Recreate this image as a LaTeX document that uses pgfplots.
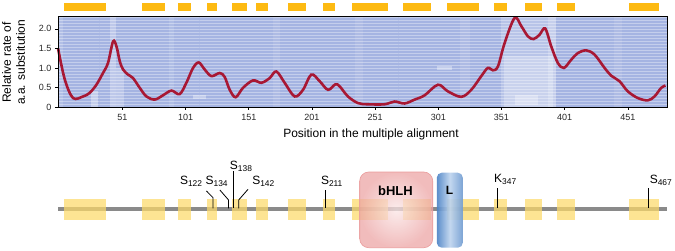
\documentclass[border=0pt]{standalone}
\usepackage{pgfplots}
\pgfplotsset{compat=1.18}
\usepackage{fontspec}
\setmainfont{Liberation Sans}
\setsansfont{Liberation Sans}
\usetikzlibrary{patterns}
\definecolor{curvered}{RGB}{168,24,52}
\definecolor{bgblue}{RGB}{165,180,226}
\definecolor{barorange}{RGB}{253,186,18}
\definecolor{boxyellow}{RGB}{252,218,105}
\definecolor{linegray}{RGB}{138,138,138}
\definecolor{hlhpink}{RGB}{234,155,155}
\definecolor{hlhlight}{RGB}{250,230,230}
\definecolor{lblue}{RGB}{78,132,198}
\definecolor{lbluelight}{RGB}{190,212,238}
\newcommand\topbar[2]{\fill[barorange] (axis cs:#1,2.46) rectangle (axis cs:#2,2.66);}
\newcommand\boxbar[2]{\fill[boxyellow,opacity=0.72] (axis cs:#1,31) rectangle (axis cs:#2,52);}
\newcommand\lightcol[5]{\fill[white,opacity=#5] (axis cs:#1,#3) rectangle (axis cs:#2,#4);}
\begin{document}
\begin{tikzpicture}
\useasboundingbox (0,0) rectangle (675bp,251bp);
% ---------------- main axis ----------------
\begin{axis}[
  at={(58bp,144bp)}, anchor=south west,
  scale only axis, width=609bp, height=91bp,
  xmin=0, xmax=482, ymin=0, ymax=2.33,
  clip=false, axis on top,
  axis line style={black, line width=0.8bp},
  tick style={black, line width=0.6bp},
  tick align=outside, major tick length=3bp,
  xtick pos=bottom, ytick pos=left,
  xtick={51,101,151,201,251,301,351,401,451},
  ytick={0,0.5,1,1.5,2},
  yticklabels={0,0.5,1.0,1.5,2.0},
  /pgf/number format/assume math mode=true,
  tick label style={font=\fontsize{9bp}{10bp}\selectfont, text=black!85},
  xticklabel style={yshift=-1bp},
  xlabel={Position in the multiple alignment},
  xlabel style={at={(axis description cs:0.514,-0.34)}, anchor=base, font=\fontsize{12bp}{14bp}\selectfont},
  ylabel={Relative rate of\\a.a. substitution},
  ylabel style={at={(axis description cs:-0.073,0.49)}, anchor=center, align=center, font=\fontsize{12bp}{14bp}\selectfont},
]
% background alignment texture
\fill[bgblue] (axis cs:0,0) rectangle (axis cs:482,2.33);
\lightcol{0}{4}{0}{2.33}{0.15}
\lightcol{41}{46}{0}{2.33}{0.28}
\lightcol{46}{52}{0}{1.0}{0.25}
\lightcol{26}{32}{0}{0.4}{0.35}
\lightcol{107}{117}{0.2}{0.32}{0.35}
\lightcol{88}{92}{0}{2.33}{0.12}
\lightcol{170}{176}{0}{2.33}{0.1}
\lightcol{235}{241}{0}{2.33}{0.1}
\lightcol{300}{312}{0.95}{1.05}{0.35}
\lightcol{318}{326}{0}{2.33}{0.1}
\lightcol{351}{394}{0}{2.33}{0.22}
\lightcol{353}{392}{0}{1.3}{0.25}
\lightcol{388}{394}{0}{2.33}{0.2}
\lightcol{362}{380}{0.05}{0.3}{0.3}
\lightcol{440}{446}{0}{2.33}{0.1}
\fill[pattern=horizontal lines, pattern color=white, opacity=0.35] (axis cs:0,0) rectangle (axis cs:482,2.33);
% domains
\topbar{4.6}{37.8}
\topbar{66.3}{84.5}
\topbar{94.7}{105}
\topbar{117.7}{125.6}
\topbar{137.5}{149.3}
\topbar{156.7}{166.1}
\topbar{181.8}{196}
\topbar{209.6}{219}
\topbar{232.4}{260.9}
\topbar{273}{295}
\topbar{307.6}{332.9}
\topbar{344.7}{355}
\topbar{370}{382.7}
\topbar{395.3}{408.8}
\topbar{452.3}{475.3}
% substitution rate
\addplot[curvered, line width=2.6bp, smooth, tension=0.55] coordinates {
(0,1.51) (5.4,0.70) (11.9,0.23) (19.8,0.27) (25,0.36) (30.4,0.57) (35.6,0.87)
(39.6,1.13) (43.6,1.68) (46.3,1.55) (48.9,1.17) (51.5,0.96) (55.4,0.83) (59.4,0.74)
(64.7,0.49) (70,0.27) (76.6,0.19) (83.1,0.30) (89.8,0.42) (96.3,0.33) (101.6,0.62)
(106.9,1.0) (111.4,1.14) (116.1,0.96) (121.4,0.79) (128,0.87) (131.9,0.77) (135.9,0.44)
(140.6,0.25) (146.4,0.49) (154.3,0.68) (161,0.62) (167.5,0.74) (172.8,0.91) (179.4,0.62)
(187.3,0.27) (193.9,0.44) (200.5,0.83) (207.1,0.66) (213.7,0.44) (219.5,0.58) (222.9,0.53)
(229.5,0.27) (237.4,0.10) (245.3,0.07) (258.5,0.07) (266.4,0.14) (274.3,0.09) (282.3,0.19)
(290.2,0.30) (300.7,0.57) (308.6,0.40) (319.2,0.26) (327.1,0.44) (335,0.79) (340.2,1.0)
(344.2,0.94) (348.2,1.04) (353.5,1.64) (361.4,2.28) (366.7,2.07) (371.9,1.81) (376.4,1.74)
(381.1,1.85) (385.6,2.01) (390.4,1.55) (395.6,1.13) (400.4,1.0) (406.2,1.21) (411.4,1.38)
(418.1,1.45) (424.7,1.34) (432.6,1.0) (437.9,0.80) (444.4,0.66) (451,0.40) (458.9,0.23)
(466.8,0.17) (472.1,0.27) (477.4,0.49) (480.8,0.55)
};
\end{axis}
% ---------------- protein diagram ----------------
\begin{axis}[
  at={(58bp,0bp)}, anchor=south west,
  scale only axis, width=609bp, height=91bp,
  xmin=0, xmax=482, ymin=0, ymax=91,
  hide axis, clip=false,
]
\draw[linegray, line width=4bp] (axis cs:0,41.7) -- (axis cs:482,41.7);
\boxbar{4.6}{37.8}
\boxbar{66.3}{84.5}
\boxbar{94.7}{105}
\boxbar{117.7}{125.6}
\boxbar{137.5}{149.3}
\boxbar{156.7}{166.1}
\boxbar{181.8}{196}
\boxbar{209.6}{219}
\boxbar{232.4}{260.9}
\boxbar{273}{295}
\boxbar{307.6}{332.9}
\boxbar{344.7}{355}
\boxbar{370}{382.7}
\boxbar{395.3}{408.8}
\boxbar{452.3}{475.3}
\shade[inner color=hlhlight, outer color=hlhpink!90, rounded corners=9bp, opacity=0.75]
  (axis cs:238.8,3.3) rectangle (axis cs:296.6,79);
\draw[hlhpink, line width=0.6bp, rounded corners=9bp]
  (axis cs:238.8,3.3) rectangle (axis cs:296.6,79);
\shade[left color=lblue, right color=lblue!80, middle color=lbluelight, rounded corners=5bp, opacity=0.92]
  (axis cs:299.8,3.3) rectangle (axis cs:320.4,78.3);
\node[font=\bfseries\fontsize{13bp}{13bp}\selectfont] at (axis cs:267.1,60.3) {bHLH};
\node[font=\bfseries\fontsize{12bp}{12bp}\selectfont] at (axis cs:309.9,61) {L};
% modification sites
\draw[black, line width=0.8bp] (axis cs:117.5,60) -- (axis cs:122.7,53.3) -- (axis cs:122.7,42.7);
\draw[black, line width=0.8bp] (axis cs:128.1,61) -- (axis cs:135,51) -- (axis cs:135,42.7);
\draw[black, line width=0.8bp] (axis cs:139,80) -- (axis cs:139,42.7);
\draw[black, line width=0.8bp] (axis cs:150.4,61.7) -- (axis cs:143,51) -- (axis cs:143,42.7);
\draw[black, line width=0.8bp] (axis cs:211.6,61) -- (axis cs:211.6,42.7);
\draw[black, line width=0.8bp] (axis cs:348,63) -- (axis cs:348,42.7);
\draw[black, line width=0.8bp] (axis cs:467,63) -- (axis cs:467,42.7);
\begin{scope}[every node/.style={anchor=base west, inner sep=0pt, font=\fontsize{12bp}{12bp}\selectfont}]
\node at (axis cs:96.4,66.7) {S\textsubscript{122}};
\node at (axis cs:116.7,66.7) {S\textsubscript{134}};
\node at (axis cs:135.9,81.7) {S\textsubscript{138}};
\node at (axis cs:153.6,66.7) {S\textsubscript{142}};
\node at (axis cs:208.0,66.7) {S\textsubscript{211}};
\node at (axis cs:345.1,68.3) {K\textsubscript{347}};
\node at (axis cs:468.2,67.7) {S\textsubscript{467}};
\end{scope}
\end{axis}
\end{tikzpicture}
\end{document}
